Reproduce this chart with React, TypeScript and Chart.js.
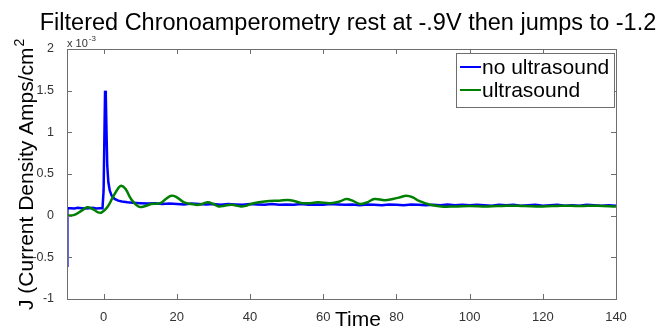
import React, { useEffect, useRef } from "react";
import { Chart, registerables } from "chart.js";

Chart.register(...registerables);

const chartTitle = "Filtered Chronoamperometry rest at -.9V then jumps to -1.2";
const xAxisTitle = "Time";
const yAxisTitle = "J (Current Density Amps/cm";
const yAxisTitleSup = "2";
const yExponentBase = "x 10";
const yExponentPower = "-3";
const seriesNames = ["no ultrasound", "ultrasound"];

const xTicks = [0, 20, 40, 60, 80, 100, 120, 140];
const yTicks = [-1, -0.5, 0, 0.5, 1, 1.5, 2];

// no ultrasound (values in 1e-3 A/cm^2)
const blueX = [
  -10, -9.9, -9, -8, -7, -6, -5, -4, -3, -2,
  -1, -0.3, 0, 0.2, 0.4, 0.6, 0.8, 1.0, 1.3, 1.7,
  2.2, 3, 4, 5, 6.5, 8, 10, 12, 14, 16,
  18, 20, 22, 24, 26, 28, 30, 32, 34, 36,
  38, 40, 42, 44, 46, 48, 50, 52, 54, 56,
  58, 60, 62, 64, 66, 68, 70, 72, 74, 76,
  78, 80, 82, 84, 86, 88, 90, 92, 94, 96,
  98, 100, 102, 104, 106, 108, 110, 112, 114, 116,
  118, 120, 122, 124, 126, 128, 130, 132, 134, 136,
  138, 140,
];
const blueY = [
  -0.6, 0.09, 0.09, 0.085, 0.095, 0.09, 0.085, 0.09, 0.095, 0.085,
  0.09, 0.09, 0.3, 0.9, 1.5, 1.45, 1.0, 0.6, 0.4, 0.3,
  0.24, 0.2, 0.18, 0.17, 0.16, 0.155, 0.15, 0.145, 0.15, 0.14,
  0.145, 0.14, 0.135, 0.145, 0.14, 0.135, 0.14, 0.13, 0.14, 0.135,
  0.13, 0.14, 0.135, 0.13, 0.14, 0.13, 0.135, 0.13, 0.14, 0.13,
  0.135, 0.13, 0.14, 0.135, 0.13, 0.135, 0.125, 0.135, 0.13, 0.125,
  0.135, 0.13, 0.125, 0.135, 0.13, 0.125, 0.13, 0.125, 0.135, 0.125,
  0.13, 0.125, 0.13, 0.125, 0.12, 0.13, 0.125, 0.13, 0.12, 0.125,
  0.13, 0.12, 0.125, 0.13, 0.12, 0.125, 0.12, 0.13, 0.125, 0.12,
  0.125, 0.12,
];

// ultrasound (values in 1e-3 A/cm^2)
const greenX = [
  -10, -8, -6, -4.5, -3, -1.5, -0.5, 1, 2.5, 4,
  4.8, 6, 7.5, 9.5, 11, 13, 15.5, 17, 18.5, 20,
  22, 24, 26, 28.4, 30, 31.5, 33, 35, 37.5, 39,
  41, 44, 48, 51, 54.4, 56.5, 58.5, 62, 64.5, 66.3,
  68, 70, 72, 74, 76.8, 79, 81, 82.7, 84.5, 86,
  89, 92.3, 96, 100, 105, 110, 115, 120, 125, 130,
  135, 140,
];
const greenY = [
  0, 0.01, 0.06, 0.1, 0.08, 0.04, 0.04, 0.1, 0.22, 0.33,
  0.36, 0.32, 0.2, 0.11, 0.11, 0.14, 0.15, 0.2, 0.24, 0.22,
  0.16, 0.14, 0.13, 0.16, 0.14, 0.11, 0.12, 0.13, 0.11, 0.12,
  0.15, 0.17, 0.18, 0.185, 0.15, 0.15, 0.16, 0.15, 0.17, 0.2,
  0.18, 0.14, 0.16, 0.2, 0.185, 0.2, 0.22, 0.24, 0.22, 0.18,
  0.135, 0.11, 0.11, 0.115, 0.11, 0.12, 0.115, 0.11, 0.12, 0.115,
  0.12, 0.11,
];

const BLUE = "#0000ff";
const GREEN = "#008000";
const AXIS = "#6e6e6e";
const FONT = "'Liberation Sans', Arial, sans-serif";

const decorPlugin = {
  id: "decor",
  afterDraw(chart: any) {
    const ctx = chart.ctx as CanvasRenderingContext2D;
    const { left, right, top, bottom } = chart.chartArea;
    const xs = chart.scales.x;
    const ys = chart.scales.y;
    ctx.save();
    // box
    ctx.strokeStyle = AXIS;
    ctx.lineWidth = 1;
    ctx.strokeRect(Math.round(left) + 0.5, Math.round(top) + 0.5, Math.round(right - left), Math.round(bottom - top));
    const tl = 5;
    ctx.beginPath();
    xTicks.forEach((v) => {
      const px = Math.round(xs.getPixelForValue(v)) + 0.5;
      ctx.moveTo(px, bottom);
      ctx.lineTo(px, bottom - tl);
      ctx.moveTo(px, top);
      ctx.lineTo(px, top + tl);
    });
    yTicks.forEach((v) => {
      const py = Math.round(ys.getPixelForValue(v)) + 0.5;
      ctx.moveTo(left, py);
      ctx.lineTo(left + tl, py);
      ctx.moveTo(right, py);
      ctx.lineTo(right - tl, py);
    });
    ctx.stroke();

    // title
    ctx.fillStyle = "#000";
    ctx.font = `23.5px ${FONT}`;
    ctx.textAlign = "center";
    ctx.textBaseline = "alphabetic";
    ctx.fillText(chartTitle, 348, 30);

    // x title
    ctx.font = `21px ${FONT}`;
    ctx.fillText(xAxisTitle, 358, 326);

    // exponent
    ctx.fillStyle = "#333";
    ctx.textAlign = "left";
    ctx.font = `11px ${FONT}`;
    ctx.fillText(yExponentBase, left, 47);
    const ew = ctx.measureText(yExponentBase).width;
    ctx.font = `8px ${FONT}`;
    ctx.fillText(yExponentPower, left + ew + 1, 41);

    // y title
    ctx.fillStyle = "#000";
    ctx.save();
    ctx.translate(33, 310);
    ctx.rotate(-Math.PI / 2);
    ctx.font = `21px ${FONT}`;
    ctx.textAlign = "left";
    ctx.fillText(yAxisTitle, 0, 0);
    const tw = ctx.measureText(yAxisTitle).width;
    ctx.font = `14px ${FONT}`;
    ctx.fillText(yAxisTitleSup, tw + 1, -9);
    ctx.restore();

    // legend
    const lx = 456, ly = 53, lw = 158, lh = 54;
    ctx.fillStyle = "#fff";
    ctx.fillRect(lx, ly, lw, lh);
    ctx.strokeStyle = AXIS;
    ctx.lineWidth = 1;
    ctx.strokeRect(lx + 0.5, ly + 0.5, lw, lh);
    const colors = [BLUE, GREEN];
    const rows = [67, 90];
    ctx.font = `21px ${FONT}`;
    ctx.textBaseline = "middle";
    seriesNames.forEach((name, i) => {
      ctx.strokeStyle = colors[i];
      ctx.lineWidth = 2;
      ctx.beginPath();
      ctx.moveTo(460, rows[i]);
      ctx.lineTo(481, rows[i]);
      ctx.stroke();
      ctx.fillStyle = "#000";
      ctx.fillText(name, 482, rows[i] + 1);
    });
    ctx.restore();
  },
};

export default function App() {
  const ref = useRef<HTMLCanvasElement | null>(null);
  useEffect(() => {
    if (!ref.current) return;
    const chart = new Chart(ref.current, {
      type: "line",
      data: {
        datasets: [
          {
            label: seriesNames[0],
            data: blueX.map((x, i) => ({ x, y: blueY[i] })),
            borderColor: BLUE,
            backgroundColor: BLUE,
            borderWidth: 2.5,
            pointRadius: 0,
            tension: 0,
            order: 1,
          },
          {
            label: seriesNames[1],
            data: greenX.map((x, i) => ({ x, y: greenY[i] })),
            borderColor: GREEN,
            backgroundColor: GREEN,
            borderWidth: 2.5,
            pointRadius: 0,
            tension: 0.4,
            order: 0,
          },
        ],
      },
      options: {
        animation: false,
        responsive: false,
        layout: { padding: { top: 49, right: 46, left: 0, bottom: 0 } },
        plugins: {
          legend: { display: false },
          title: { display: false },
          tooltip: { enabled: false },
        },
        scales: {
          x: {
            type: "linear",
            min: -10,
            max: 140,
            grid: { display: false },
            border: { display: false },
            afterBuildTicks: (s: any) => {
              s.ticks = xTicks.map((v) => ({ value: v }));
            },
            afterFit: (s: any) => {
              s.height = 28;
            },
            ticks: {
              padding: 3,
              color: "#333",
              font: { family: FONT, size: 13 },
              maxRotation: 0,
              callback: (v: any) => String(v),
            },
          },
          y: {
            type: "linear",
            min: -1,
            max: 2,
            grid: { display: false },
            border: { display: false },
            afterBuildTicks: (s: any) => {
              s.ticks = yTicks.map((v) => ({ value: v }));
            },
            afterFit: (s: any) => {
              s.width = 67;
            },
            ticks: {
              padding: 5,
              color: "#333",
              font: { family: FONT, size: 12.5 },
              callback: (v: any) => String(v),
            },
          },
        },
      },
      plugins: [decorPlugin],
    });
    return () => chart.destroy();
  }, []);
  return (
    <div style={{ position: "absolute", left: 0, top: 0, width: 662, height: 327, background: "#fff" }}>
      <canvas ref={ref} width={662} height={327} />
    </div>
  );
}
